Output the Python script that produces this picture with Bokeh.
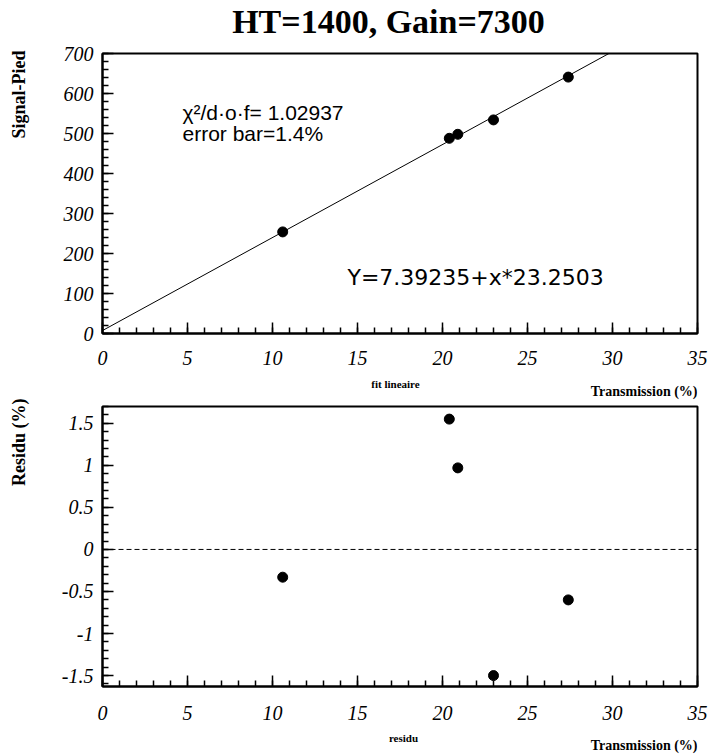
import math
from bokeh.plotting import figure
from bokeh.models import (Range1d, SingleIntervalTicker, Label, Slope, Span,
                          CustomJSTickFormatter, ColumnDataSource)
from bokeh.layouts import column, row
from bokeh.embed import file_html
from bokeh.resources import INLINE

# ---------------- data ----------------
title_text = "HT=1400, Gain=7300"
transmission = [10.6, 20.4, 20.9, 23.0, 27.4]          # Transmission (%)
signal_pied = [254, 488, 498, 534, 641]                 # Signal-Pied
residu_pct = [-0.33, 1.55, 0.97, -1.50, -0.60]          # Residu (%)
fit_intercept = 7.39235
fit_slope = 23.2503
chi2_ndf = 1.02937
error_bar_pct = 1.4
x_range_vals = (0, 35)
top_y_range = (0, 700)
bottom_y_range = (-1.63, 1.70)

TICK_FONT = "Liberation Serif"
LABEL_FONT = "Liberation Serif"
SANS = "Liberation Sans"

W, H = 725, 756
HEAD_H = 40          # strip holding the main title
STRIP_W = 40         # strip holding the rotated y-axis titles
PW = W - STRIP_W
FRAME_L, FRAME_R = 102, 697     # canvas x of the plot frames
LEFT = FRAME_L - STRIP_W
RIGHT = W - FRAME_R

# vertical layout (canvas pixels from the top)
P1_END = 375         # end of top figure (frame 53..333)
MID_END = 405        # end of caption strip between the plots
P2_END = 728         # end of bottom figure (frame 406..686)


def blank(width, height, x0=0, x1=None, left=0, right=0):
    f = figure(width=width, height=height, output_backend="svg",
               toolbar_location=None, x_axis_type=None, y_axis_type=None,
               x_range=Range1d(x0, width if x1 is None else x1),
               y_range=Range1d(0, height),
               min_border=0, min_border_left=left, min_border_right=right,
               min_border_top=0, min_border_bottom=0)
    f.outline_line_color = None
    f.background_fill_color = "white"
    f.border_fill_color = "white"
    f.grid.visible = False
    return f


def style(p, y_interval, standoff_x):
    p.background_fill_color = "white"
    p.border_fill_color = "white"
    p.outline_line_color = "black"
    p.outline_line_width = 2
    p.grid.visible = False
    p.xaxis.ticker = SingleIntervalTicker(interval=5, num_minor_ticks=5)
    p.yaxis.ticker = SingleIntervalTicker(interval=y_interval, num_minor_ticks=5)
    for ax in (p.xaxis[0], p.yaxis[0]):
        ax.axis_line_color = "black"
        ax.axis_line_width = 2
        ax.major_tick_in = 11
        ax.major_tick_out = 0
        ax.minor_tick_in = 6
        ax.minor_tick_out = 0
        ax.major_tick_line_width = 1.5
        ax.minor_tick_line_width = 1.5
        ax.major_label_text_font = TICK_FONT
        ax.major_label_text_font_style = "italic"
        ax.major_label_text_font_size = "20px"
        ax.major_label_text_color = "black"
    p.xaxis.major_label_standoff = standoff_x
    p.yaxis.major_label_standoff = 9
    fmt = "return String(Math.round(tick*100)/100);"
    p.xaxis.formatter = CustomJSTickFormatter(code=fmt)
    p.yaxis.formatter = CustomJSTickFormatter(code=fmt)


def lab(p, text, x, y, size, font=SANS, style_="normal", align="left",
        baseline="alphabetic", angle=0.0, units="screen"):
    p.add_layout(Label(x=x, y=y, x_units=units, y_units=units, text=text,
                       text_font=font, text_font_style=style_,
                       text_font_size=size, text_align=align,
                       text_baseline=baseline, angle=angle, text_color="black"))


def captions(strip_h, strip_end, caption, cap_x, cap_y):
    """Strip under a plot: small centred caption + right-aligned axis title.
    Its frame lines up with the plot frames, x given in canvas pixels."""
    f = blank(PW, strip_h, x0=FRAME_L, x1=FRAME_R, left=LEFT, right=RIGHT)
    lab(f, caption, cap_x, strip_end - cap_y, "11px", font=LABEL_FONT,
        style_="bold", align="center", baseline="middle", units="data")
    lab(f, "Transmission (%)", FRAME_R, strip_end - (cap_y + 8), "14px",
        font=LABEL_FONT, style_="bold", align="right", baseline="middle",
        units="data")
    return f


# ---------------- title strip ----------------
head = blank(W, HEAD_H)
lab(head, title_text, 388, HEAD_H - 21, "34px", font=LABEL_FONT, style_="bold",
    align="center", baseline="middle", units="data")

# ---------------- top figure ----------------
p1 = figure(width=PW, height=P1_END - HEAD_H, output_backend="svg",
            toolbar_location=None,
            x_range=Range1d(*x_range_vals), y_range=Range1d(*top_y_range),
            min_border_left=LEFT, min_border_right=RIGHT, min_border_top=53 - HEAD_H,
            min_border_bottom=P1_END - 333)
style(p1, 100, 17)
src1 = ColumnDataSource(dict(x=transmission, y=signal_pied))
p1.add_layout(Slope(gradient=fit_slope, y_intercept=fit_intercept,
                    line_color="black", line_width=1))
p1.scatter("x", "y", source=src1, size=10, color="black")

lab(p1, f"\u03c7\u00b2/d\u00b7o\u00b7f=  {chi2_ndf}", 80, 221, "21px")
lab(p1, f"error bar={error_bar_pct}%", 80, 200, "21px")
lab(p1, f"Y={fit_intercept}+x*{fit_slope}", 245, 56, "22px", font="DejaVu Sans")

mid = captions(MID_END - P1_END, MID_END, "fit lineaire", 395, 383)

# ---------------- bottom figure ----------------
p2 = figure(width=PW, height=P2_END - MID_END, output_backend="svg",
            toolbar_location=None,
            x_range=Range1d(*x_range_vals), y_range=Range1d(*bottom_y_range),
            min_border_left=LEFT, min_border_right=RIGHT, min_border_top=406 - MID_END,
            min_border_bottom=P2_END - 686)
style(p2, 0.5, 19)
src2 = ColumnDataSource(dict(x=transmission, y=residu_pct))
p2.add_layout(Span(location=0, dimension="width", line_color="black",
                   line_width=1, line_dash="5 3"))
p2.scatter("x", "y", source=src2, size=10, color="black")

foot = captions(H - P2_END, H, "residu", 403, 737)

# ---------------- y-title strip ----------------
SH = H - HEAD_H
strip = blank(STRIP_W, SH)
lab(strip, "Signal-Pied", 18, SH - (50 - HEAD_H), "18px", font=LABEL_FONT,
    style_="bold", align="right", baseline="middle", angle=math.pi / 2,
    units="data")
lab(strip, "Residu (%)", 18, SH - (398 - HEAD_H), "18px", font=LABEL_FONT,
    style_="bold", align="right", baseline="middle", angle=math.pi / 2,
    units="data")

layout = column(head, row(strip, column(p1, mid, p2, foot, spacing=0), spacing=0),
                spacing=0)
open("out.html", "w").write(file_html(layout, INLINE))
